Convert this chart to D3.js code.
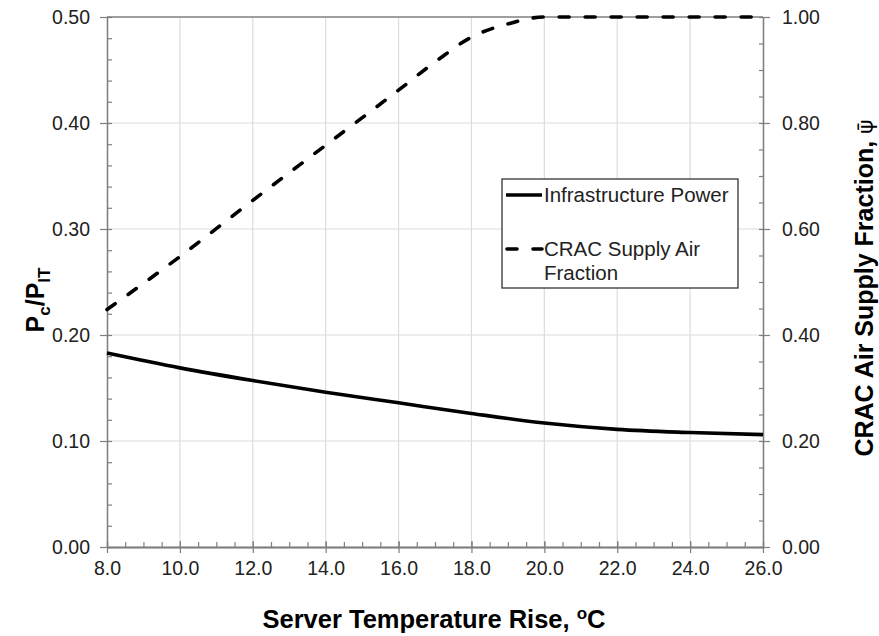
<!DOCTYPE html>
<html>
<head>
<meta charset="utf-8">
<script src="https://cdn.jsdelivr.net/npm/d3@7"></script>
<style>
  html, body { margin: 0; padding: 0; background: #fff; }
  svg { display: block; font-family: "Liberation Sans", Arial, sans-serif; }
</style>
</head>
<body>
<svg id="chart" width="879" height="636"></svg>
<script>
// Server temperature rise (°C) at which the curves are sampled
const powerTemps = [8, 10, 12, 14, 16, 18, 20, 22, 24, 26];
// Infrastructure power ratio Pc/PIT (left axis)
const powerRatio = [0.183, 0.169, 0.157, 0.146, 0.136, 0.126, 0.117, 0.111, 0.108, 0.106];

const fractionTemps = [8, 10, 12, 14, 16, 17, 18, 19, 20, 22, 24, 26];
// CRAC supply air fraction (right axis)
const supplyFraction = [0.448, 0.548, 0.654, 0.758, 0.862, 0.915, 0.962, 0.987, 1.0, 1.0, 1.0, 1.0];

const xTicks = [8, 10, 12, 14, 16, 18, 20, 22, 24, 26];
const leftTicks = [0, 0.1, 0.2, 0.3, 0.4, 0.5];
const rightTicks = [0, 0.2, 0.4, 0.6, 0.8, 1.0];
const legendLabels = ["Infrastructure Power", "CRAC Supply Air", "Fraction"];

const svg = d3.select("#chart");
const plotLeft = 107, plotRight = 763, plotTop = 17, plotBottom = 547;

const x = d3.scaleLinear().domain([8, 26]).range([plotLeft, plotRight]);
const yL = d3.scaleLinear().domain([0, 0.5]).range([plotBottom, plotTop]);
const yR = d3.scaleLinear().domain([0, 1]).range([plotBottom, plotTop]);

const axisColor = "#7f7f7f";
const gridColor = "#dcdcdc";
const textColor = "#222";

// grid
const grid = svg.append("g");
grid.selectAll("line.v").data(xTicks.slice(1, -1)).join("line")
  .attr("x1", d => x(d)).attr("x2", d => x(d))
  .attr("y1", plotTop).attr("y2", plotBottom)
  .attr("stroke", gridColor).attr("stroke-width", 1.2);
grid.selectAll("line.h").data(leftTicks.slice(1, -1)).join("line")
  .attr("x1", plotLeft).attr("x2", plotRight)
  .attr("y1", d => yL(d)).attr("y2", d => yL(d))
  .attr("stroke", gridColor).attr("stroke-width", 1.2);

// top frame line
svg.append("line").attr("x1", plotLeft).attr("x2", plotRight)
  .attr("y1", plotTop).attr("y2", plotTop)
  .attr("stroke", axisColor).attr("stroke-width", 1.3);

function styleAxis(g, showText) {
  g.select(".domain").attr("stroke", axisColor).attr("stroke-width", 1.3);
  g.selectAll(".tick line").attr("stroke", axisColor).attr("stroke-width", 1.2);
  g.selectAll(".tick text").attr("fill", textColor).style("font-size", "19.5px")
    .style("display", showText ? null : "none");
}

const range = (a, b, s) => d3.range(a, b + s / 2, s);

// x axis: minor inside, majors crossing
svg.append("g").attr("transform", `translate(0,${plotBottom})`)
  .call(d3.axisTop(x).tickValues(range(8, 26, 0.5)).tickSize(5).tickSizeOuter(0))
  .call(g => styleAxis(g, false));
svg.append("g").attr("transform", `translate(0,${plotBottom})`)
  .call(d3.axisTop(x).tickValues(xTicks).tickSize(6).tickSizeOuter(0))
  .call(g => styleAxis(g, false));
svg.append("g").attr("transform", `translate(0,${plotBottom})`)
  .call(d3.axisBottom(x).tickValues(xTicks).tickSize(6).tickSizeOuter(0).tickPadding(8)
    .tickFormat(d3.format(".1f")))
  .call(g => styleAxis(g, true));

// left axis
svg.append("g").attr("transform", `translate(${plotLeft},0)`)
  .call(d3.axisRight(yL).tickValues(range(0, 0.5, 0.02)).tickSize(5).tickSizeOuter(0))
  .call(g => styleAxis(g, false));
svg.append("g").attr("transform", `translate(${plotLeft},0)`)
  .call(d3.axisLeft(yL).tickValues(leftTicks).tickSize(7).tickSizeOuter(0).tickPadding(10)
    .tickFormat(d3.format(".2f")))
  .call(g => styleAxis(g, true));

// right axis
svg.append("g").attr("transform", `translate(${plotRight},0)`)
  .call(d3.axisLeft(yR).tickValues(range(0, 1, 0.05)).tickSize(4).tickSizeOuter(0))
  .call(g => styleAxis(g, false));
svg.append("g").attr("transform", `translate(${plotRight},0)`)
  .call(d3.axisRight(yR).tickValues(rightTicks).tickSize(7).tickSizeOuter(0).tickPadding(12)
    .tickFormat(d3.format(".2f")))
  .call(g => styleAxis(g, true));

// curves
const powerLine = d3.line().x(d => x(d[0])).y(d => yL(d[1])).curve(d3.curveMonotoneX);
const fracLine = d3.line().x(d => x(d[0])).y(d => yR(d[1])).curve(d3.curveMonotoneX);

svg.append("path").datum(d3.zip(fractionTemps, supplyFraction))
  .attr("d", fracLine).attr("fill", "none").attr("stroke", "#000")
  .attr("stroke-width", 3.6).attr("stroke-dasharray", "10,16").attr("stroke-linecap", "round");
svg.append("path").datum(d3.zip(powerTemps, powerRatio))
  .attr("d", powerLine).attr("fill", "none").attr("stroke", "#000")
  .attr("stroke-width", 3.6);

// legend
const lg = svg.append("g");
lg.append("rect").attr("x", 502).attr("y", 179).attr("width", 236).attr("height", 109)
  .attr("fill", "#fff").attr("stroke", "#333").attr("stroke-width", 1.3);
lg.append("line").attr("x1", 506).attr("x2", 542).attr("y1", 195).attr("y2", 195)
  .attr("stroke", "#000").attr("stroke-width", 3.6);
lg.append("line").attr("x1", 507).attr("x2", 542).attr("y1", 249).attr("y2", 249)
  .attr("stroke", "#000").attr("stroke-width", 3.6).attr("stroke-dasharray", "10,16")
  .attr("stroke-linecap", "round");
lg.selectAll("text").data(legendLabels).join("text")
  .attr("x", 544).attr("y", (d, i) => [202, 256, 280][i])
  .attr("fill", textColor).style("font-size", "20.5px").text(d => d);

// axis titles
const xt = svg.append("text").attr("x", 434).attr("y", 628).attr("text-anchor", "middle")
  .attr("fill", "#000").style("font-size", "25.5px").style("font-weight", "bold");
xt.append("tspan").text("Server Temperature Rise, ");
xt.append("tspan").text("o").style("font-size", "17px").attr("dy", -9);
xt.append("tspan").text("C").attr("dy", 9);

const lt = svg.append("text").attr("transform", "translate(44,300) rotate(-90)")
  .attr("text-anchor", "middle").attr("fill", "#000")
  .style("font-size", "25px").style("font-weight", "bold");
lt.append("tspan").text("P");
lt.append("tspan").text("c").style("font-size", "17px").attr("dy", 6);
lt.append("tspan").text("/P").attr("dy", -6);
lt.append("tspan").text("IT").style("font-size", "17px").attr("dy", 6);

const rt = svg.append("text").attr("transform", "translate(873,288) rotate(-90)")
  .attr("text-anchor", "middle").attr("fill", "#000")
  .style("font-size", "25px").style("font-weight", "bold");
rt.append("tspan").text("CRAC Air Supply Fraction, ");
rt.append("tspan").text("\u03C8\u0304").style("font-weight", "normal")
  .style("font-family", "'DejaVu Sans', sans-serif").style("font-size", "22px");
</script>
</body>
</html>
